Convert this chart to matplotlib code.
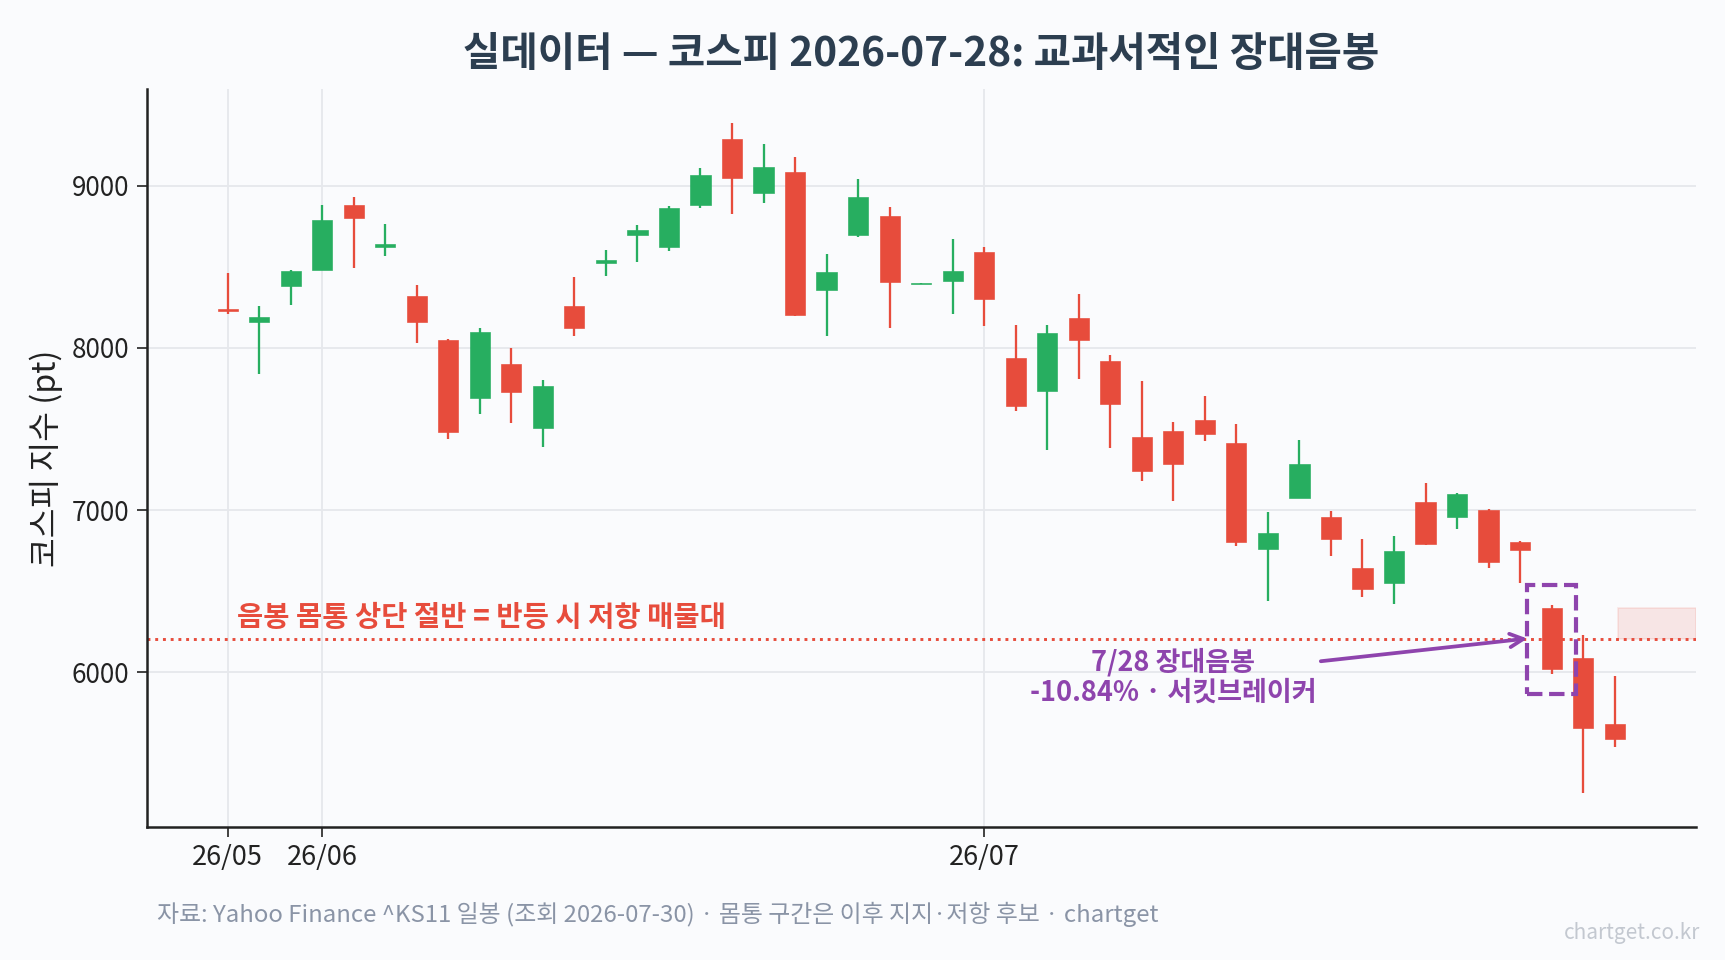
import matplotlib
matplotlib.use('Agg')
import matplotlib.pyplot as plt
from matplotlib.patches import Rectangle
import numpy as np

plt.rcParams['font.family'] = ['Noto Sans CJK KR', 'DejaVu Sans']

C_UP = '#27ae60'
C_DOWN = '#e74c3c'
C_NOTE = '#8e44ad'
C_TITLE = '#2c3e50'
BG = '#fafbfd'

# KOSPI daily candles, index 0 = 26/05 end of month
OPEN = [8243, 8159, 8381, 8483, 8883, 8621, 8323, 8049, 7692, 7899,
        7507, 8262, 8522, 8694, 8621, 8879, 9289, 8953, 9086, 8356,
        8700, 8815, 8396, 8411, 8594, 7936, 7735, 8188, 7918, 7450,
        7487, 7555, 7413, 6763, 7077, 6958, 6644, 6548, 7050, 6960,
        7001, 6804, 6398, 6091, 5679]
HIGH = [8463, 8258, 8481, 8879, 8934, 8762, 8387, 8053, 8125, 8002,
        7803, 8436, 8606, 8756, 8873, 9109, 9389, 9256, 9180, 8580,
        9045, 8867, 8400, 8670, 8621, 8141, 8141, 8331, 7956, 7797,
        7544, 7704, 7530, 6987, 7430, 6997, 6821, 6839, 7169, 7108,
        7007, 6809, 6413, 6228, 5978]
LOW = [8211, 7838, 8266, 8479, 8494, 8569, 8033, 7438, 7592, 7536,
       7387, 8071, 8446, 8533, 8598, 8863, 8826, 8893, 8196, 8077,
       8686, 8121, 8394, 8211, 8137, 7610, 7370, 7807, 7383, 7178,
       7057, 7424, 6778, 6440, 7073, 6720, 6464, 6421, 6786, 6882,
       6643, 6552, 5987, 5255, 5537]
CLOSE = [8227, 8190, 8477, 8791, 8799, 8643, 8159, 7483, 8096, 7729,
         7764, 8122, 8545, 8729, 8865, 9068, 9051, 9117, 8202, 8471,
         8932, 8405, 8399, 8477, 8301, 7643, 8090, 8049, 7655, 7243,
         7286, 7470, 6803, 6860, 7284, 6819, 6511, 6749, 6792, 7100,
         6683, 6751, 6018, 5656, 5589]

TICK_POS = [0, 3, 24]
TICK_LABELS = ['26/05', '26/06', '26/07']
EVENT_IDX = 42
EVENT_PCT = -10.84

o = np.array(OPEN); h = np.array(HIGH); l = np.array(LOW); c = np.array(CLOSE)
x = np.arange(len(o))
up = c >= o
colors = np.where(up, C_UP, C_DOWN)

fig, ax = plt.subplots(figsize=(11.5, 6.4), dpi=150)
fig.patch.set_facecolor(BG)
ax.set_facecolor(BG)
fig.subplots_adjust(left=0.085, right=0.983, top=0.907, bottom=0.139)

ax.vlines(x, l, h, colors=colors, linewidth=1.1, zorder=2)
ax.bar(x, np.maximum(np.abs(c - o), 4), bottom=np.minimum(o, c), width=0.64,
       color=colors, edgecolor=colors, linewidth=0.3, zorder=3)

# resistance: upper half of the bearish body
eo, ec = o[EVENT_IDX], c[EVENT_IDX]
mid = (eo + ec) / 2
ax.axhline(mid, color=C_DOWN, linestyle=':', linewidth=1.4, zorder=1)
ax.axhspan(mid, eo, xmin=0.95, xmax=1.0, facecolor=C_DOWN, alpha=0.12,
           edgecolor=C_DOWN, linewidth=0.8, zorder=1)
ax.annotate('음봉 몸통 상단 절반 = 반등 시 저항 매물대', xy=(0.3, mid),
            xytext=(0, 3), textcoords='offset points', ha='left', va='bottom',
            fontsize=13.7, fontweight='bold', color=C_DOWN)

# highlight box around the event candle
eh, el = h[EVENT_IDX], l[EVENT_IDX]
bx0, by0, by1 = EVENT_IDX - 0.77, el * 0.98, eh * 1.02
ax.add_patch(Rectangle((bx0, by0), 1.54, by1 - by0, fill=False,
                       edgecolor=C_NOTE, linestyle='--', linewidth=2.0, zorder=4))
ax.annotate(f'7/28 장대음봉\n{EVENT_PCT:.2f}% · 서킷브레이커',
            xy=(bx0, mid), xytext=(EVENT_IDX - 12, 5968),
            ha='center', va='center', fontsize=13, fontweight='bold',
            color=C_NOTE, linespacing=1.1,
            arrowprops=dict(arrowstyle='->', color=C_NOTE, lw=1.8,
                            mutation_scale=16, shrinkA=0, shrinkB=0), zorder=5)

rng = h.max() - l.min()
ax.set_ylim(l.min() - 0.05 * rng, h.max() + 0.05 * rng)
ax.set_xlim(-2.57, len(x) + 1.57)
ax.set_yticks([6000, 7000, 8000, 9000])
ax.set_xticks(TICK_POS)
ax.set_xticklabels(TICK_LABELS)
ax.tick_params(axis='x', labelsize=13, colors='#222222', length=5)
ax.tick_params(axis='y', labelsize=12.5, colors='#222222', length=5)
ax.grid(True, color='#e6e8ec', linewidth=0.9, zorder=0)
ax.set_axisbelow(True)
for s in ['top', 'right']:
    ax.spines[s].set_visible(False)
for s in ['left', 'bottom']:
    ax.spines[s].set_color('#222222'); ax.spines[s].set_linewidth(1.2)

ax.set_ylabel('코스피 지수 (pt)', fontsize=15.5, color='#222222')
ax.set_title('실데이터 — 코스피 2026-07-28: 교과서적인 장대음봉', fontsize=19.5,
             fontweight='bold', color=C_TITLE, pad=11)

fig.text(0.091, 0.047, '자료: Yahoo Finance ^KS11 일봉 (조회 2026-07-30) · 몸통 구간은 이후 지지·저항 후보 · chartget',
         fontsize=11.5, color='#8a94a6', ha='left', va='center')
fig.text(0.9855, 0.028, 'chartget.co.kr', fontsize=10, color='#c3c8d0', ha='right', va='center')

plt.savefig('out.png', dpi=150, facecolor=BG)
